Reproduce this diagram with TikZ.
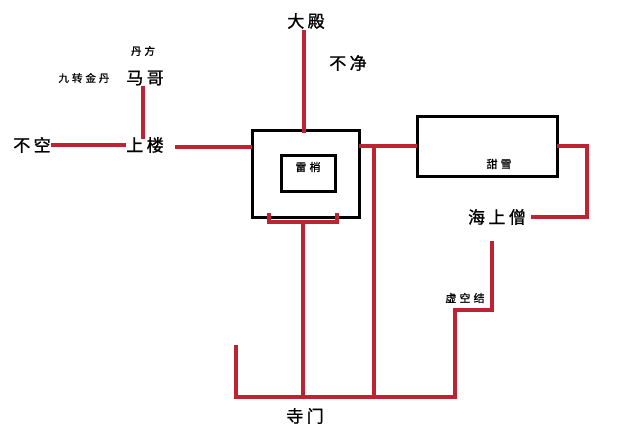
\documentclass[tikz,border=0pt]{standalone}
\usepackage{fontspec}
\setmainfont{Noto Sans CJK SC}
\newfontfamily\cjkbig[LetterSpace=20,FakeBold=1.2]{Noto Sans CJK SC}
\newfontfamily\cjksmall[LetterSpace=28,FakeBold=0.8]{Noto Sans CJK SC}
\definecolor{lineRed}{HTML}{BE2332}
\begin{document}
\begin{tikzpicture}[x=1pt,y=-1pt,
  redline/.style={draw=lineRed,line width=3.5pt,line cap=rect},
  boxstyle/.style={draw=black,line width=3pt,inner sep=0pt,fill=none},
  bigtxt/.style={font=\cjkbig\fontsize{17}{20}\selectfont,inner sep=2pt},
  smalltxt/.style={font=\cjksmall\fontsize{10.5}{12}\selectfont,inner sep=1pt},
  midtxt/.style={font=\cjksmall\fontsize{11}{13}\selectfont,inner sep=1pt}]
\useasboundingbox[fill=white] (0,0) rectangle (637,442);

% boxes
\node[boxstyle,minimum width=107pt,minimum height=87pt] (outer) at (305.5,173.5) {};
\node[boxstyle,minimum width=54pt,minimum height=36pt] (inner) at (308,173) {};
\node[midtxt] (leishao) at (308,167) {雷梢};
\node[boxstyle,minimum width=140pt,minimum height=60pt] (tianbox) at (487,146.5) {};
\node[midtxt] (tianxue) at (499,164) {甜雪};

% texts
\node[bigtxt] (bukong) at (32,145) {不空};
\node[bigtxt] (shanglou) at (145,145) {上楼};
\node[bigtxt] (mage) at (145,78) {马哥};
\node[smalltxt] (jiuzhuan) at (84,78) {九转金丹};
\node[smalltxt] (danfang) at (143,51) {丹方};
\node[bigtxt] (dadian) at (306,21) {大殿};
\node[bigtxt] (bujing) at (348,63) {不净};
\node[bigtxt] (haishang) at (497,217) {海上僧};
\node[midtxt] (xukong) at (465,298) {虚空结};
\node[bigtxt] (simen) at (305,416) {寺门};

% coordinates
\coordinate (bl) at (269,215);
\coordinate (br) at (337,215);
\coordinate (bm) at (303,222);
\coordinate (gate) at (303,397);
\coordinate (sl) at (177,147);
\coordinate (jr) at (374,146);
\coordinate (jrb) at (374,397);
\coordinate (re) at (587,146);
\coordinate (hs) at (492,243);
\coordinate (hsend) at (533,217);
\coordinate (stepc) at (455,310);
\coordinate (endb) at (455,397);
\coordinate (lt) at (236,347);

% connectors
\draw[redline] (bukong.east) -- (shanglou.west);
\draw[redline] (143,88) -- (143,137);
\draw[redline] (sl) -- (sl -| outer.west);
\draw[redline] (304,32) -- (304,131);
\draw[redline] (bl) |- (bm) -| (br);
\draw[redline] (bm) -- (gate);
\draw[redline] (outer.east |- jr) -- (tianbox.west |- jr);
\draw[redline] (jr) -- (jrb);
\draw[redline] (tianbox.east |- re) -- (re) |- (hsend);
\draw[redline] (hs) |- (stepc) -- (endb);
\draw[redline] (lt) |- (endb);
\end{tikzpicture}
\end{document}
